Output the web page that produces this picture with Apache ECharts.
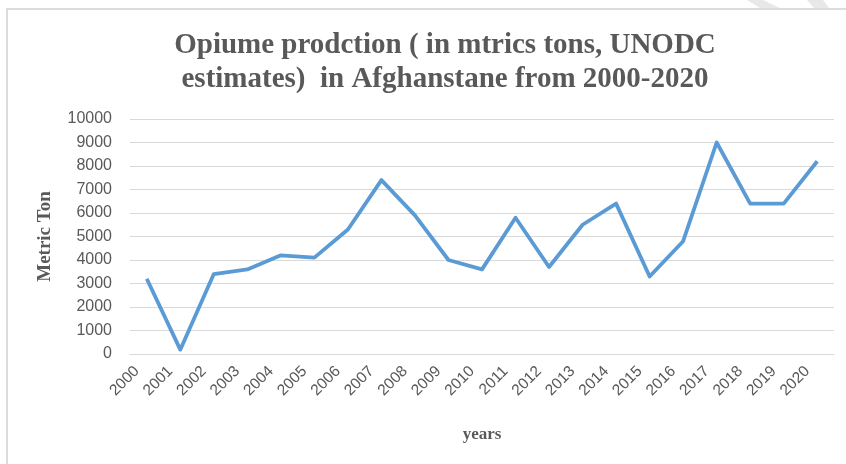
<!DOCTYPE html>
<html><head><meta charset="utf-8">
<script src="https://cdn.jsdelivr.net/npm/echarts@6/dist/echarts.min.js"></script>
<style>html,body{margin:0;padding:0;background:#fff;}#c{width:846px;height:464px;}</style>
</head><body><div id="c"></div>
<script>
const years = ['2000','2001','2002','2003','2004','2005','2006','2007','2008','2009','2010','2011','2012','2013','2014','2015','2016','2017','2018','2019','2020'];
const production = [3200,185,3400,3600,4200,4100,5300,7400,5900,4000,3600,5800,3700,5500,6400,3300,4800,9000,6400,6400,8200];
const titleText = 'Opiume prodction ( in mtrics tons, UNODC\nestimates)  in Afghanstane from 2000-2020';

const chart = echarts.init(document.getElementById('c'));
chart.setOption({
  animation: false,
  backgroundColor: '#fff',
  title: {
    text: titleText, left: 440, top: 24, textAlign: 'center',
    textStyle: {fontFamily: 'Liberation Serif', fontWeight: 'bold', fontSize: 29, color: '#595959', lineHeight: 34}
  },
  graphic: [
    {type: 'rect', shape: {x: 7, y: 9, width: 860, height: 470}, style: {fill: 'none', stroke: '#dcdcdc', lineWidth: 2}},
    {type: 'polygon', shape: {points: [[747,0],[763,0],[780,8],[760,8]]}, style: {fill: '#e8e8e8'}},
    {type: 'polygon', shape: {points: [[807,0],[823,0],[829,8],[814,8]]}, style: {fill: '#e8e8e8'}}
  ],
  grid: {left: 130, right: 12, top: 119, bottom: 110},
  xAxis: {
    type: 'category', data: years, boundaryGap: true,
    name: 'years', nameLocation: 'middle', nameGap: 72,
    nameTextStyle: {fontFamily: 'Liberation Serif', fontWeight: 'bold', fontSize: 17, color: '#595959'},
    axisLine: {lineStyle: {color: '#d9d9d9', width: 1}},
    axisTick: {show: false},
    axisLabel: {rotate: 45, interval: 0, fontFamily: 'Liberation Sans', fontSize: 15.5, color: '#595959', margin: 5, padding: [0, 14, 0, 0]}
  },
  yAxis: {
    type: 'value', min: 0, max: 10000, interval: 1000,
    name: 'Metric Ton', nameLocation: 'middle', nameGap: 75,
    nameTextStyle: {fontFamily: 'Liberation Serif', fontWeight: 'bold', fontSize: 19, color: '#595959'},
    axisLine: {show: false}, axisTick: {show: false},
    axisLabel: {fontFamily: 'Liberation Sans', fontSize: 16, color: '#595959', margin: 18, formatter: v => String(v)},
    splitLine: {lineStyle: {color: '#d9d9d9', width: 1}}
  },
  series: [{
    type: 'line', data: production, symbol: 'none',
    lineStyle: {color: '#5B9BD5', width: 3.8, join: 'round'}
  }]
});
</script></body></html>
